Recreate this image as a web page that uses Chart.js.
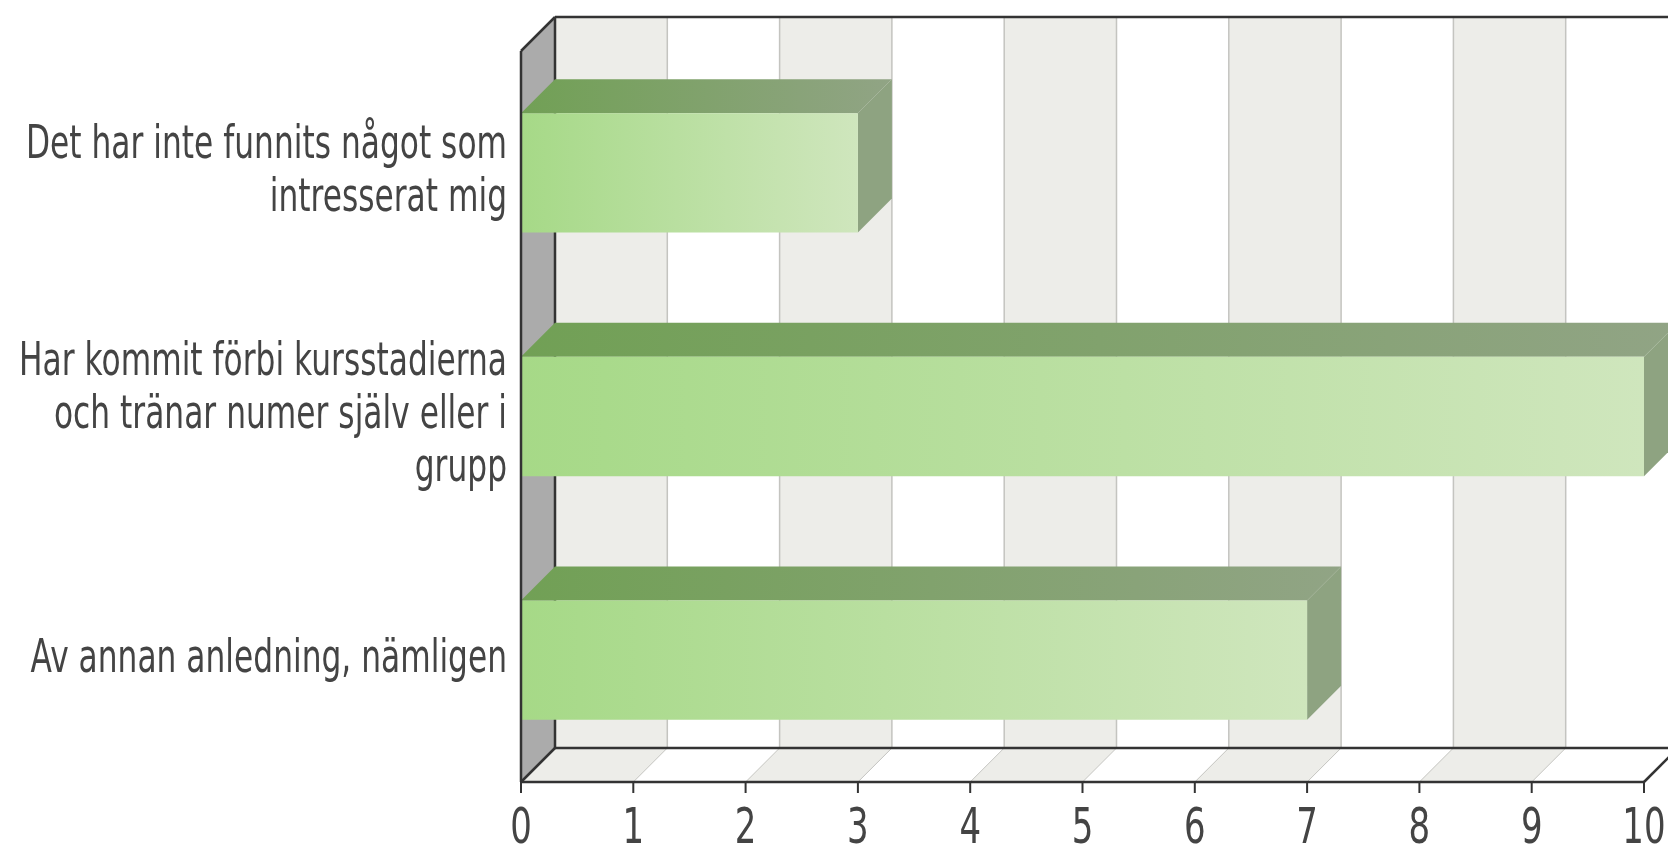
<!DOCTYPE html>
<html>
<head>
<meta charset="utf-8">
<script src="https://cdn.jsdelivr.net/npm/chart.js@4"></script>
<style>
  html, body { margin: 0; padding: 0; background: #fff; }
  canvas { display: block; }
</style>
</head>
<body>
<canvas id="reasonsChart" width="1668" height="846"></canvas>
<script>
const categories = [
    ['Det har inte funnits något som', 'intresserat mig'],
    ['Har kommit förbi kursstadierna', 'och tränar numer själv eller i', 'grupp'],
    ['Av annan anledning, nämligen']
];
const counts = [3, 10, 7];
const xTicks = [0, 1, 2, 3, 4, 5, 6, 7, 8, 9, 10];

const colors = {
    text: '#444444',
    axis: '#333333',
    grid: '#c4c4c0',
    stripe: '#ededE9',
    wall: '#ababab',
    frontA: '#a6d987',
    frontB: '#cfe6bd',
    topA: '#71a055',
    topB: '#91a485',
    side: '#8ea381'
};

// depth of the fake 3d box
const DX = 34, DY = 34;
const SX = 0.68; // horizontal squeeze of the text

function stretchedText(c, text, x, y, size, align, baseline) {
    c.save();
    c.translate(x, y);
    c.scale(SX, 1);
    c.font = size + 'px "DejaVu Sans"';
    c.fillStyle = colors.text;
    c.textAlign = align;
    c.textBaseline = baseline;
    c.fillText(text, 0, 0);
    c.restore();
}

function poly(c, pts, fill) {
    c.beginPath();
    c.moveTo(pts[0][0], pts[0][1]);
    for (let i = 1; i < pts.length; i++) c.lineTo(pts[i][0], pts[i][1]);
    c.closePath();
    c.fillStyle = fill;
    c.fill();
}

function line(c, x0, y0, x1, y1, color, w) {
    c.beginPath();
    c.moveTo(x0, y0);
    c.lineTo(x1, y1);
    c.strokeStyle = color;
    c.lineWidth = w;
    c.stroke();
}

const box3d = {
    id: 'box3d',
    beforeDatasetsDraw(chart) {
        const c = chart.ctx;
        const a = chart.chartArea;
        const xs = chart.scales.x;
        c.save();

        // back wall stripes + grid
        for (let i = 0; i < xTicks.length - 1; i += 2) {
            const l = xs.getPixelForValue(xTicks[i]) + DX;
            const r = xs.getPixelForValue(xTicks[i + 1]) + DX;
            c.fillStyle = colors.stripe;
            c.fillRect(l, a.top - DY, r - l, a.bottom - a.top);
            // floor stripe
            poly(c, [[l - DX, a.bottom], [r - DX, a.bottom], [r, a.bottom - DY], [l, a.bottom - DY]], colors.stripe);
        }
        xTicks.forEach(v => {
            const x = xs.getPixelForValue(v);
            line(c, x + DX, a.top - DY, x + DX, a.bottom - DY, colors.grid, 1.5);
            line(c, x, a.bottom, x + DX, a.bottom - DY, colors.grid, 1);
        });

        // left wall
        poly(c, [[a.left, a.top], [a.left + DX, a.top - DY], [a.left + DX, a.bottom - DY], [a.left, a.bottom]], colors.wall);

        // back outline
        line(c, a.left + DX, a.top - DY, chart.width, a.top - DY, colors.axis, 2.5);
        line(c, a.left + DX, a.top - DY, a.left + DX, a.bottom - DY, colors.axis, 2.5);
        line(c, a.left + DX, a.bottom - DY, chart.width, a.bottom - DY, colors.axis, 2.5);

        // top and side faces of the bars
        const meta = chart.getDatasetMeta(0);
        meta.data.forEach(bar => {
            const x0 = bar.base, x1 = bar.x;
            const top = bar.y - bar.height / 2, bottom = bar.y + bar.height / 2;
            const g = c.createLinearGradient(x0, 0, x1 + DX, 0);
            g.addColorStop(0, colors.topA);
            g.addColorStop(1, colors.topB);
            poly(c, [[x0, top], [x1, top], [x1 + DX, top - DY], [x0 + DX, top - DY]], g);
            poly(c, [[x1, top], [x1 + DX, top - DY], [x1 + DX, bottom - DY], [x1, bottom]], colors.side);
        });
        c.restore();
    },
    afterDatasetsDraw(chart) {
        const c = chart.ctx;
        const a = chart.chartArea;
        const xs = chart.scales.x;
        const ys = chart.scales.y;
        c.save();

        // front outline
        line(c, a.left, a.top, a.left, a.bottom, colors.axis, 2.5);
        line(c, a.left, a.top, a.left + DX, a.top - DY, colors.axis, 2.5);
        line(c, a.left, a.bottom, a.right, a.bottom, colors.axis, 2.5);
        line(c, a.left, a.bottom, a.left + DX, a.bottom - DY, colors.axis, 2.5);
        line(c, a.right, a.bottom, a.right + DX, a.bottom - DY, colors.axis, 2.5);

        // x ticks
        xTicks.forEach(v => {
            const x = xs.getPixelForValue(v);
            line(c, x, a.bottom, x, a.bottom + 11, colors.axis, 2);
            stretchedText(c, String(v), x, 843, 50, 'center', 'alphabetic');
        });

        // category labels
        categories.forEach((lines, i) => {
            const cy = ys.getPixelForValue(i);
            lines.forEach((t, j) => {
                const y = cy + (j - (lines.length - 1) / 2) * 53;
                stretchedText(c, t, 507, y, 46, 'right', 'middle');
            });
        });
        c.restore();
    }
};

new Chart(document.getElementById('reasonsChart'), {
    type: 'bar',
    data: {
        labels: categories,
        datasets: [{
            data: counts,
            backgroundColor: (ctx) => {
                const chart = ctx.chart;
                if (!chart.chartArea || ctx.raw === undefined) return colors.frontA;
                const xs = chart.scales.x;
                const g = chart.ctx.createLinearGradient(xs.getPixelForValue(0), 0, xs.getPixelForValue(ctx.raw), 0);
                g.addColorStop(0, colors.frontA);
                g.addColorStop(1, colors.frontB);
                return g;
            },
            borderWidth: 0,
            categoryPercentage: 1,
            barPercentage: 0.49
        }]
    },
    options: {
        indexAxis: 'y',
        responsive: false,
        animation: false,
        layout: { padding: { left: 521, right: 24, top: 51, bottom: 64 } },
        plugins: {
            legend: { display: false },
            tooltip: { enabled: false }
        },
        scales: {
            x: { display: false, min: 0, max: 10 },
            y: { display: false }
        }
    },
    plugins: [box3d]
});
</script>
</body>
</html>
